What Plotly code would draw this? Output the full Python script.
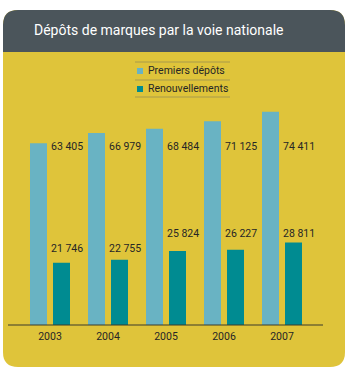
import plotly.graph_objects as go

years = [2003, 2004, 2005, 2006, 2007]
premiers = [63405, 66979, 68484, 71125, 74411]
renouv = [21746, 22755, 25824, 26227, 28811]
premiers_lbl = ["63 405", "66 979", "68 484", "71 125", "74 411"]
renouv_lbl = ["21 746", "22 755", "25 824", "26 227", "28 811"]
title = "Dépôts de marques par la voie nationale"
names = ["Premiers dépôts", "Renouvellements"]

W, H = 350, 377
C_LIGHT = "#69b3c3"
C_DARK = "#008b91"
C_YEL = "#dfc43a"
C_HEAD = "#4b555b"
FONT = "Roboto, Liberation Sans, sans-serif"
TXT = "#262626"

def px(x):
    return x / W

def py(y):
    return 1 - y / H

x0, x1 = 8, 323
sp = 58.0
xr = [2003 - (50 - x0) / sp, 2007 + (x1 - 282) / sp]
ytop, ybase = 100, 325
scale = 349.0
yr = [0, (ybase - ytop) * scale]

fig = go.Figure()
fig.add_trace(go.Bar(x=years, y=premiers, name=names[0], marker_color=C_LIGHT,
                     width=17 / sp, offset=-20 / sp, marker_line_width=0))
fig.add_trace(go.Bar(x=years, y=renouv, name=names[1], marker_color=C_DARK,
                     width=17 / sp, offset=3 / sp, marker_line_width=0))

annotations = []
for i, yv in enumerate(years):
    annotations.append(dict(x=yv, y=(ybase - 146) * scale, xref="x", yref="y",
                            text=premiers_lbl[i], showarrow=False, xanchor="left",
                            yanchor="middle", xshift=-1,
                            font=dict(size=10.5, color=TXT, family=FONT)))
for i, yv in enumerate(years):
    dy = 248 if renouv[i] < 25000 else 233
    annotations.append(dict(x=yv, y=(ybase - dy) * scale, xref="x", yref="y",
                            text=renouv_lbl[i], showarrow=False, xanchor="left",
                            yanchor="middle", xshift=-1,
                            font=dict(size=10.5, color=TXT, family=FONT)))

annotations.append(dict(x=px(32), y=py(30), xref="paper", yref="paper", text=title,
                        showarrow=False, xanchor="left", yanchor="middle",
                        font=dict(size=14, color="white", family=FONT)))
for nm, yy in zip(names, [71, 89]):
    annotations.append(dict(x=px(146), y=py(yy), xref="paper", yref="paper", text=nm,
                            showarrow=False, xanchor="left", yanchor="middle",
                            font=dict(size=10.5, color=TXT, family=FONT)))

shapes = []
r = 15
L, T, R, B = 3, 10, 345, 367

def rr(l, t, rgt, b, rad):
    l, rgt = px(l), px(rgt)
    t, b = py(t), py(b)
    rx, ry = rad / W, rad / H
    return (f"M {l+rx},{t} L {rgt-rx},{t} Q {rgt},{t} {rgt},{t-ry} "
            f"L {rgt},{b+ry} Q {rgt},{b} {rgt-rx},{b} L {l+rx},{b} Q {l},{b} {l},{b+ry} "
            f"L {l},{t-ry} Q {l},{t} {l+rx},{t} Z")

shapes.append(dict(type="path", path=rr(L, T, R, B, r), xref="paper", yref="paper",
                   fillcolor=C_YEL, line=dict(width=0), layer="below"))
hl, ht, hr, hb = px(L), py(T), px(R), py(52)
rx, ry = r / W, r / H
shapes.append(dict(type="path", xref="paper", yref="paper", layer="below",
                   path=(f"M {hl+rx},{ht} L {hr-rx},{ht} Q {hr},{ht} {hr},{ht-ry} L {hr},{hb} "
                         f"L {hl},{hb} L {hl},{ht-ry} Q {hl},{ht} {hl+rx},{ht} Z"),
                   fillcolor=C_HEAD, line=dict(width=0)))
for yy in [62, 80, 97]:
    shapes.append(dict(type="line", xref="paper", yref="paper", x0=px(135), x1=px(230),
                       y0=py(yy), y1=py(yy), line=dict(color="#a89a4a", width=1)))
for c, yy in zip([C_LIGHT, C_DARK], [71, 89]):
    shapes.append(dict(type="rect", xref="paper", yref="paper", x0=px(137), x1=px(143),
                       y0=py(yy - 3), y1=py(yy + 3), fillcolor=c, line=dict(width=0)))
shapes.append(dict(type="line", xref="paper", yref="paper", x0=px(x0), x1=px(x1),
                   y0=py(ybase), y1=py(ybase), line=dict(color="#3a3a2a", width=1), layer="above"))

fig.update_layout(
    width=W, height=H, margin=dict(l=0, r=0, t=0, b=0),
    paper_bgcolor="white", plot_bgcolor="rgba(0,0,0,0)",
    barmode="overlay", showlegend=False,
    xaxis=dict(domain=[px(x0), px(x1)], range=xr, tickmode="array", tickvals=years,
               ticktext=[str(y) for y in years], showgrid=False, zeroline=False,
               showline=False, ticks="outside", ticklen=1, tickcolor="rgba(0,0,0,0)",
               tickfont=dict(size=10.5, color=TXT, family=FONT), fixedrange=True),
    yaxis=dict(domain=[py(ybase), py(ytop)], range=yr, visible=False, fixedrange=True),
    annotations=annotations, shapes=shapes,
)
fig.write_html("out.html")
